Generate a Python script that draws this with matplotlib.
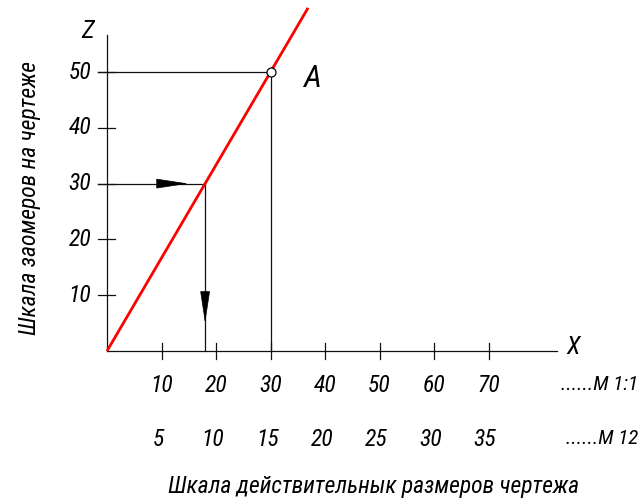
import matplotlib
matplotlib.use("Agg")
import matplotlib.pyplot as plt
from matplotlib import font_manager

# ---- data ----
x_ticks = [10, 20, 30, 40, 50, 60, 70]
x_labels_m11 = ["10", "20", "30", "40", "50", "60", "70"]
x_labels_m12 = ["5", "10", "15", "20", "25", "30", "35"]
z_ticks = [10, 20, 30, 40, 50]
z_labels = ["10", "20", "30", "40", "50"]
line_x = [0, 36.9]
line_z = [0, 61.5]
point_a = (30, 50)
example_z = 30
example_x = 18

italic_fams = {f.name for f in font_manager.fontManager.ttflist
               if f.style in ("italic", "oblique")}
fam = "DejaVu Sans"
for cand in ["Roboto Condensed", "Fira Sans Condensed", "IBM Plex Sans Condensed",
             "Liberation Sans Narrow", "Arimo", "Liberation Sans"]:
    if cand in italic_fams:
        fam = cand
        break
plt.rcParams["font.family"] = [fam, "DejaVu Sans"]
plt.rcParams["font.style"] = "italic"

W, H = 641, 504
fig = plt.figure(figsize=(W / 100, H / 100), dpi=100)
ax = fig.add_axes([0, 0, 1, 1])
ax.set_axis_off()
px_x, px_z = 5.45, 5.58     # pixels per data unit
ox, oz = 107, 351           # origin in pixel coords (from top)
ax.set_xlim(-ox / px_x, (W - ox) / px_x)
ax.set_ylim(-(H - oz) / px_z, oz / px_z)

lc = "#111111"
lw = 0.9
# axes
ax.plot([0, 0], [0, 56.6], color=lc, lw=lw)
ax.plot([0, 82.6], [0, 0], color=lc, lw=lw)
tz = 8 / px_z
for t in x_ticks:
    ax.plot([t, t], [-tz, tz], color=lc, lw=lw)
tl, tr = -9 / px_x, 8 / px_x
for t in z_ticks:
    ax.plot([tl, tr], [t, t], color=lc, lw=lw)

# construction lines for point A
ax.plot([tl, point_a[0]], [point_a[1], point_a[1]], color=lc, lw=lw)
ax.plot([point_a[0], point_a[0]], [0, point_a[1]], color=lc, lw=lw)
# example lines
ax.plot([tl, example_x], [example_z, example_z], color=lc, lw=lw)
ax.plot([example_x, example_x], [0, example_z], color=lc, lw=lw)

ap = dict(arrowstyle="-|>,head_length=2.1,head_width=0.32", color="black",
          lw=0.5, shrinkA=0, shrinkB=0, mutation_scale=10)
ax.annotate("", xy=(14.9, example_z), xytext=(9.7, example_z), arrowprops=ap)
ax.annotate("", xy=(example_x, 5.0), xytext=(example_x, 10.0), arrowprops=ap)

# red scale line
ax.plot(line_x, line_z, color="#ff0000", lw=2.0, solid_capstyle="butt", zorder=5)
ax.plot([point_a[0]], [point_a[1]], marker="o", ms=6.5, mfc="white", mec="black",
        mew=0.9, zorder=6)

# labels
ax.text(37.6, 48.9, "A", fontsize=23, ha="center", va="center")
ax.text(-3.5, 57.4, "Z", fontsize=18, ha="center", va="center")
ax.text(85.6, 0.7, "X", fontsize=18, ha="center", va="center")

for t, s in zip(z_ticks, z_labels):
    ax.text(-2.9, t, s, fontsize=17, ha="right", va="center")

row1 = -(385 - oz) / px_z
row2 = -(439 - oz) / px_z
for t, s in zip(x_ticks, x_labels_m11):
    ax.text(t, row1, s, fontsize=17, ha="center", va="center")
for t, s in zip(x_ticks, x_labels_m12):
    ax.text(t - 0.6, row2, s, fontsize=17, ha="center", va="center")
ax.text((638 - ox) / px_x, row1, "......М 1:1", fontsize=15, ha="right", va="center")
ax.text((638 - ox) / px_x, row2, "......М 12", fontsize=15, ha="right", va="center")

ax.text((374 - ox) / px_x, -(487 - oz) / px_z, "Шкала действительнык размеров чертежа",
        fontsize=17, ha="center", va="center")
ax.text((30 - ox) / px_x, (oz - 198) / px_z, "Шкала заомеров на чертеже",
        fontsize=17, ha="center", va="center", rotation=90)

fig.savefig("out.png", dpi=100)
